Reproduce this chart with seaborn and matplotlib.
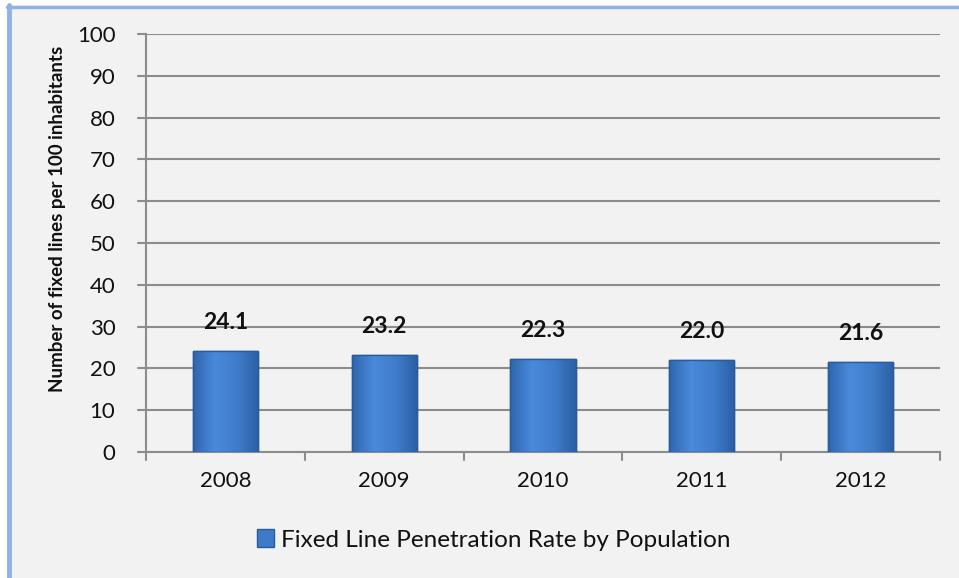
import numpy as np
import pandas as pd
import matplotlib
matplotlib.use("Agg")
import matplotlib.pyplot as plt
import seaborn as sns
from matplotlib.patches import Rectangle
from matplotlib.lines import Line2D
from matplotlib.colors import LinearSegmentedColormap

years = ["2008", "2009", "2010", "2011", "2012"]
values = [24.1, 23.2, 22.3, 22.0, 21.6]
series_name = "Fixed Line Penetration Rate by Population"
y_label = "Number of fixed lines per 100 inhabitants"
y_ticks = [0, 10, 20, 30, 40, 50, 60, 70, 80, 90, 100]

df = pd.DataFrame({"year": years, "value": values})

sns.set_theme(style="white")
plt.rcParams["font.family"] = ["Lato", "DejaVu Sans"]

bg = "#F2F2F2"
fig = plt.figure(figsize=(9.59, 5.78), dpi=100, facecolor="white")
fig.patches.append(Rectangle((7/959, 0), 1, 1 - 5/578, transform=fig.transFigure,
                             facecolor=bg, edgecolor="none", zorder=-10))
fig.add_artist(Line2D([9/959, 9/959], [0, 1 - 5/578], transform=fig.transFigure,
                      color="#8DB3E2", lw=3.5, zorder=-5))
fig.add_artist(Line2D([7/959, 1], [1 - 6.5/578, 1 - 6.5/578], transform=fig.transFigure,
                      color="#8DB3E2", lw=2.5, zorder=-5))

ax = fig.add_axes([146/959, 1 - 452/578, (940 - 146)/959, (452 - 34)/578])
ax.set_facecolor(bg)

sns.barplot(data=df, x="year", y="value", ax=ax, color="#3C7BC8", width=0.41,
            edgecolor="#2A5C99", linewidth=1.0, zorder=3, legend=False)

grad = np.linspace(0, 1, 256).reshape(1, -1)
cmap = LinearSegmentedColormap.from_list("bar", ["#2F65AD", "#4A8ADB", "#3F7DCB", "#2C5FA3"])
for p in list(ax.patches):
    x0, y0 = p.get_x(), p.get_y()
    w, h = p.get_width(), p.get_height()
    im = ax.imshow(grad, extent=[x0, x0 + w, y0, y0 + h], aspect="auto",
                   cmap=cmap, zorder=3.5, interpolation="bicubic")
    im.set_clip_path(p)
    ax.add_patch(Rectangle((x0, y0), w, h, facecolor="none", edgecolor="#2A5C99",
                           lw=1.0, zorder=4))

ax.set_xlim(-0.5, len(years) - 0.5)
ax.set_ylim(0, 100)
ax.set_yticks(y_ticks)
ax.set_yticklabels([str(t) for t in y_ticks], fontsize=16, color="#111111")
ax.set_xticks(range(len(years)))
ax.set_xticklabels(years, fontsize=16, color="#111111")
ax.tick_params(axis="x", length=0, pad=14)
ax.tick_params(axis="y", length=0, pad=22)

for b in np.arange(-0.5, len(years), 1.0):
    ax.plot([b, b], [0, -2.0], color="#8C8C8C", lw=1.5, clip_on=False, zorder=5)
ax.yaxis.grid(True, color="#8C8C8C", lw=1.5, zorder=0)
for t in y_ticks:
    ax.plot([-0.5 - 0.05, -0.5], [t, t], color="#8C8C8C", lw=1.5, clip_on=False, zorder=5)

for s in ["top", "right"]:
    ax.spines[s].set_visible(False)
for s in ["left", "bottom"]:
    ax.spines[s].set_color("#8C8C8C")
    ax.spines[s].set_linewidth(1.5)

ax.set_xlabel("")
ax.set_ylabel(y_label, fontsize=13.5, fontweight="bold", color="#111111")
ax.yaxis.set_label_coords(-0.111, 0.557)
ax.yaxis.label.set_va("center")

for i, v in enumerate(values):
    ax.text(i, v + 4.3, f"{v:.1f}", ha="center", va="bottom", fontsize=16.5,
            fontweight="bold", color="#111111", zorder=6)

handle = Rectangle((0, 0), 1, 1, facecolor="#3C7BC8", edgecolor="#2A5C99")
leg = fig.legend([handle], [series_name], loc="center", bbox_to_anchor=(0.515, 1 - 540/578),
                 frameon=False, fontsize=17.5, handlelength=0.7, handleheight=0.7,
                 handletextpad=0.3)
for t in leg.get_texts():
    t.set_color("#111111")

fig.savefig("out.png", dpi=100, facecolor="white")
